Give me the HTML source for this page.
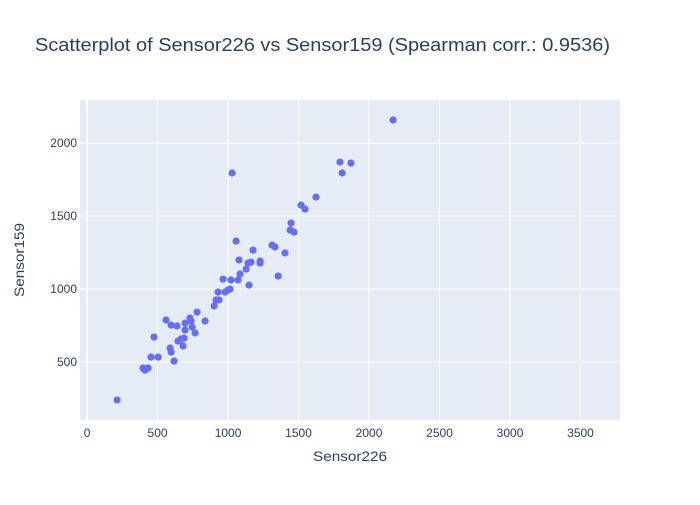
<!DOCTYPE html>
<html><head><meta charset="utf-8"><style>
body{margin:0;background:#fff;}
svg text{font-family:"Liberation Sans",sans-serif;fill:#2a3f5f;}
</style></head><body>
<svg id="chart" width="700" height="500">
<rect width="700" height="500" fill="#fff"/>
<text x="35" y="51" font-size="18" textLength="575" lengthAdjust="spacingAndGlyphs">Scatterplot of Sensor226 vs Sensor159 (Spearman corr.: 0.9536)</text>
<rect x="80" y="100" width="540" height="320" fill="#e5ecf6"/>
<g id="grid"></g><g id="ticks"></g><g id="pts"></g>
<text x="350" y="461" font-size="14" textLength="74" lengthAdjust="spacingAndGlyphs" text-anchor="middle">Sensor226</text>
<text x="24" y="260" font-size="14" textLength="74" lengthAdjust="spacingAndGlyphs" text-anchor="middle" transform="rotate(-90 24 260)">Sensor159</text>
</svg>
<script>
const xTicks=[0,500,1000,1500,2000,2500,3000,3500];
const yTicks=[500,1000,1500,2000];
const xVals=[213,397,433,411,454,504,475,617,589,596,560,596,638,681,645,667,688,695,695,730,738,745,766,780,837,901,915,936,929,979,1000,1014,1149,1021,1071,2170,1794,1872,1809,1028,1624,1518,1546,1447,1440,1468,1057,1312,1333,1177,1404,1078,1142,1163,1227,1227,1128,1355,1085,965];
const yVals=[240,459,459,445,534,534,671,507,596,568,788,753,747,610,644,658,664,719,767,801,781,740,699,842,781,884,925,925,979,979,993,1000,1027,1062,1062,2158,1870,1863,1795,1795,1630,1575,1548,1452,1404,1390,1329,1301,1288,1267,1247,1199,1178,1185,1192,1178,1137,1089,1103,1068,1082];
const X=v=>80+(v+50)*540/3830;
const Y=v=>420-(v-103)*320/2192;
const ns="http://www.w3.org/2000/svg";
const g=document.getElementById('grid'),t=document.getElementById('ticks'),p=document.getElementById('pts');
function mk(tag,a,parent){const e=document.createElementNS(ns,tag);for(const k in a)e.setAttribute(k,a[k]);parent.appendChild(e);return e;}
xTicks.forEach(v=>{
 const l=mk('line',{x1:X(v),x2:X(v),y1:100,y2:420,stroke:'#fff','stroke-width':v===0?2:1},g);
 
 
 const tx=mk('text',{x:X(v),y:437,'font-size':12,'text-anchor':'middle'},t);tx.textContent=v;
 
 
});
yTicks.forEach(v=>{
 const l=mk('line',{x1:80,x2:620,y1:Y(v),y2:Y(v),stroke:'#fff','stroke-width':1},g);
 
 
 const tx=mk('text',{x:77,y:Y(v)+4,'font-size':12,'text-anchor':'end'},t);tx.textContent=v;
 
 
});
const n=Math.min(xVals.length,yVals.length);
for(let i=0;i<n;i++){
 const c=mk('circle',{cx:X(xVals[i]),cy:Y(yVals[i]),r:3.6,fill:'#636efa'},p);
 
 
}
</script>
</body></html>
